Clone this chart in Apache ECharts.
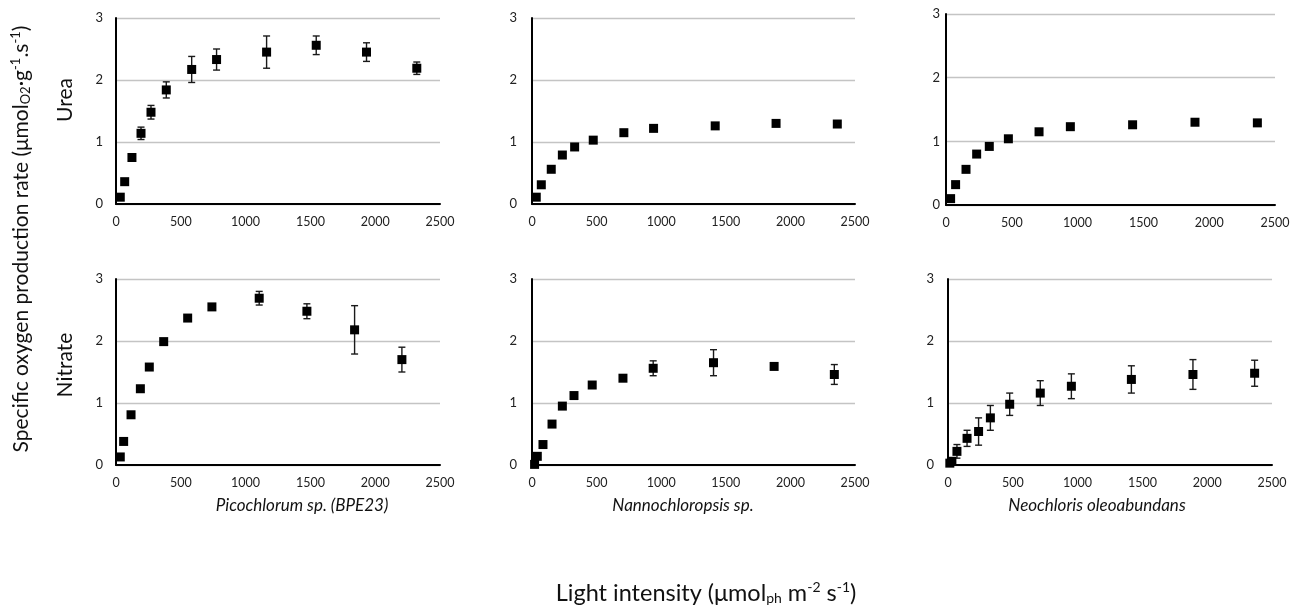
<!DOCTYPE html>
<html><head><meta charset="utf-8">
<script src="https://cdn.jsdelivr.net/npm/echarts@6/dist/echarts.min.js"></script>
<style>html,body{margin:0;padding:0;background:#fff}#c{width:1293px;height:606px}</style>
</head><body><div id="c"></div>
<script>
// Tick values
const xTicks = [0, 500, 1000, 1500, 2000, 2500];
const yTicks = [0, 1, 2, 3];

// Column titles / row labels
const speciesNames = ['Picochlorum sp. (BPE23)', 'Nannochloropsis sp.', 'Neochloris oleoabundans'];
const rowNames = ['Urea', 'Nitrate'];

// Picochlorum – Urea
const picoUreaX   = [33, 67, 123, 193, 270, 388, 584, 776, 1162, 1545, 1933, 2321];
const picoUreaY   = [0.11, 0.36, 0.75, 1.14, 1.48, 1.84, 2.17, 2.33, 2.45, 2.56, 2.45, 2.19];
const picoUreaErr = [0, 0, 0, 0.10, 0.11, 0.13, 0.21, 0.17, 0.26, 0.15, 0.15, 0.10];

// Nannochloropsis – Urea
const nannoUreaX   = [33, 72, 149, 235, 330, 474, 711, 941, 1418, 1889, 2363];
const nannoUreaY   = [0.11, 0.31, 0.56, 0.79, 0.92, 1.03, 1.15, 1.22, 1.26, 1.30, 1.29];
const nannoUreaErr = [0, 0, 0, 0, 0, 0, 0, 0, 0, 0, 0];

// Neochloris – Urea
const neoUreaX   = [35, 73, 152, 233, 329, 474, 707, 945, 1418, 1892, 2366];
const neoUreaY   = [0.10, 0.32, 0.56, 0.80, 0.92, 1.04, 1.15, 1.23, 1.26, 1.30, 1.29];
const neoUreaErr = [0, 0, 0, 0, 0, 0, 0, 0, 0, 0, 0];

// Picochlorum – Nitrate
const picoNitX   = [33, 59, 116, 188, 257, 368, 553, 740, 1105, 1473, 1841, 2206];
const picoNitY   = [0.13, 0.38, 0.81, 1.23, 1.58, 1.99, 2.37, 2.55, 2.69, 2.48, 2.18, 1.70];
const picoNitErr = [0, 0, 0, 0, 0, 0, 0, 0, 0.11, 0.12, 0.39, 0.20];

// Nannochloropsis – Nitrate
const nannoNitX   = [20, 41, 85, 155, 235, 325, 466, 704, 938, 1405, 1874, 2340];
const nannoNitY   = [0.01, 0.14, 0.33, 0.66, 0.95, 1.12, 1.29, 1.40, 1.56, 1.65, 1.59, 1.46];
const nannoNitErr = [0, 0, 0, 0, 0, 0, 0, 0, 0.12, 0.21, 0, 0.16];

// Neochloris – Nitrate
const neoNitX   = [14, 30, 69, 147, 236, 327, 476, 712, 952, 1415, 1890, 2366];
const neoNitY   = [0.03, 0.06, 0.22, 0.43, 0.54, 0.76, 0.98, 1.16, 1.27, 1.38, 1.46, 1.48];
const neoNitErr = [0.02, 0.04, 0.11, 0.13, 0.22, 0.20, 0.18, 0.20, 0.20, 0.22, 0.24, 0.21];

const panels = [
  {x: picoUreaX, y: picoUreaY, e: picoUreaErr},
  {x: nannoUreaX, y: nannoUreaY, e: nannoUreaErr},
  {x: neoUreaX, y: neoUreaY, e: neoUreaErr},
  {x: picoNitX, y: picoNitY, e: picoNitErr},
  {x: nannoNitX, y: nannoNitY, e: nannoNitErr},
  {x: neoNitX, y: neoNitY, e: neoNitErr}
];

// layout (pixels)
const gridPos = [
  {left: 116, top: 18, width: 324, height: 186},
  {left: 532, top: 18, width: 323, height: 186},
  {left: 946, top: 14, width: 329, height: 191},
  {left: 116, top: 279, width: 324, height: 186},
  {left: 532, top: 279, width: 323, height: 186},
  {left: 948, top: 279, width: 324, height: 186}
];
const yLabelMargin = [13, 15, 6, 13, 15, 14];

const FONT = 'Lato';
const grids = [], xAxes = [], yAxes = [], series = [];
gridPos.forEach((g, i) => {
  grids.push(Object.assign({containLabel: false}, g));
  xAxes.push({
    type: 'value', gridIndex: i,
    min: xTicks[0], max: xTicks[xTicks.length - 1], interval: xTicks[1] - xTicks[0],
    axisLine: {show: true, onZero: false, lineStyle: {color: '#000', width: 2}},
    axisTick: {show: false},
    splitLine: {show: false},
    axisLabel: {color: '#222', fontFamily: FONT, fontSize: 12.5, margin: 11, showMaxLabel: true, showMinLabel: true,
      formatter: v => String(v)}
  });
  yAxes.push({
    type: 'value', gridIndex: i,
    min: yTicks[0], max: yTicks[yTicks.length - 1], interval: yTicks[1] - yTicks[0],
    axisLine: {show: true, onZero: false, lineStyle: {color: '#000', width: 2}},
    axisTick: {show: false},
    splitLine: {show: true, lineStyle: {color: '#c4c4c4', width: 1.3}},
    axisLabel: {color: '#222', fontFamily: FONT, fontSize: 13, margin: yLabelMargin[i], formatter: v => String(v)}
  });
  const p = panels[i];
  const errData = [];
  p.x.forEach((xv, k) => { if (p.e[k] > 0) errData.push([xv, p.y[k] - p.e[k], p.y[k] + p.e[k]]); });
  series.push({
    type: 'custom', xAxisIndex: i, yAxisIndex: i, z: 2, silent: true,
    data: errData,
    renderItem: function (params, api) {
      const lo = api.coord([api.value(0), api.value(1)]);
      const hi = api.coord([api.value(0), api.value(2)]);
      const w = 3.5;
      const st = {stroke: '#1a1a1a', lineWidth: 1.4};
      return {type: 'group', children: [
        {type: 'line', shape: {x1: lo[0], y1: lo[1], x2: hi[0], y2: hi[1]}, style: st},
        {type: 'line', shape: {x1: lo[0] - w, y1: lo[1], x2: lo[0] + w, y2: lo[1]}, style: st},
        {type: 'line', shape: {x1: hi[0] - w, y1: hi[1], x2: hi[0] + w, y2: hi[1]}, style: st}
      ]};
    }
  });
  series.push({
    type: 'scatter', xAxisIndex: i, yAxisIndex: i, z: 3,
    symbol: 'rect', symbolSize: 9,
    itemStyle: {color: '#000', opacity: 1},
    data: p.x.map((xv, k) => [xv, p.y[k]])
  });
});

const titleCenters = [302, 683, 1097];
const graphics = [];
speciesNames.forEach((n, i) => {
  graphics.push({type: 'text', x: titleCenters[i], y: 506,
    style: {text: n, fontFamily: FONT, fontSize: 17, fontStyle: 'italic', fill: '#111', align: 'center', verticalAlign: 'middle'}});
});
const rowCenters = [100, 365];
rowNames.forEach((n, i) => {
  graphics.push({type: 'text', x: 65, y: rowCenters[i], rotation: Math.PI / 2,
    style: {text: n, fontFamily: FONT, fontSize: 21, fill: '#111', align: 'center', verticalAlign: 'middle'}});
});
const supS = {fontFamily: FONT, fontSize: 13, fill: '#111', padding: [0, 0, 11, 0]};
const subS = {fontFamily: FONT, fontSize: 13, fill: '#111', padding: [9, 0, 0, 0]};
const supX = {fontFamily: FONT, fontSize: 14, fill: '#111', padding: [0, 0, 12, 0]};
const subX = {fontFamily: FONT, fontSize: 14, fill: '#111', padding: [10, 0, 0, 0]};
graphics.push({type: 'text', x: 21, y: 239, rotation: Math.PI / 2,
  style: {
    text: 'Specific oxygen production rate (μmol{sub|O2}·g{sup|-1}.s{sup|-1})',
    fontFamily: FONT, fontSize: 21, fill: '#111', align: 'center', verticalAlign: 'middle',
    rich: {sup: supS, sub: subS}
  }});
graphics.push({type: 'text', x: 706, y: 593,
  style: {
    text: 'Light intensity (μmol{sub|ph} m{sup|-2} s{sup|-1})',
    fontFamily: FONT, fontSize: 23.5, fill: '#111', align: 'center', verticalAlign: 'middle',
    rich: {sup: supX, sub: subX}
  }});

const chart = echarts.init(document.getElementById('c'), null, {renderer: 'canvas'});
chart.setOption({
  animation: false,
  backgroundColor: '#fff',
  grid: grids, xAxis: xAxes, yAxis: yAxes, series: series,
  graphic: graphics
});
</script></body></html>
